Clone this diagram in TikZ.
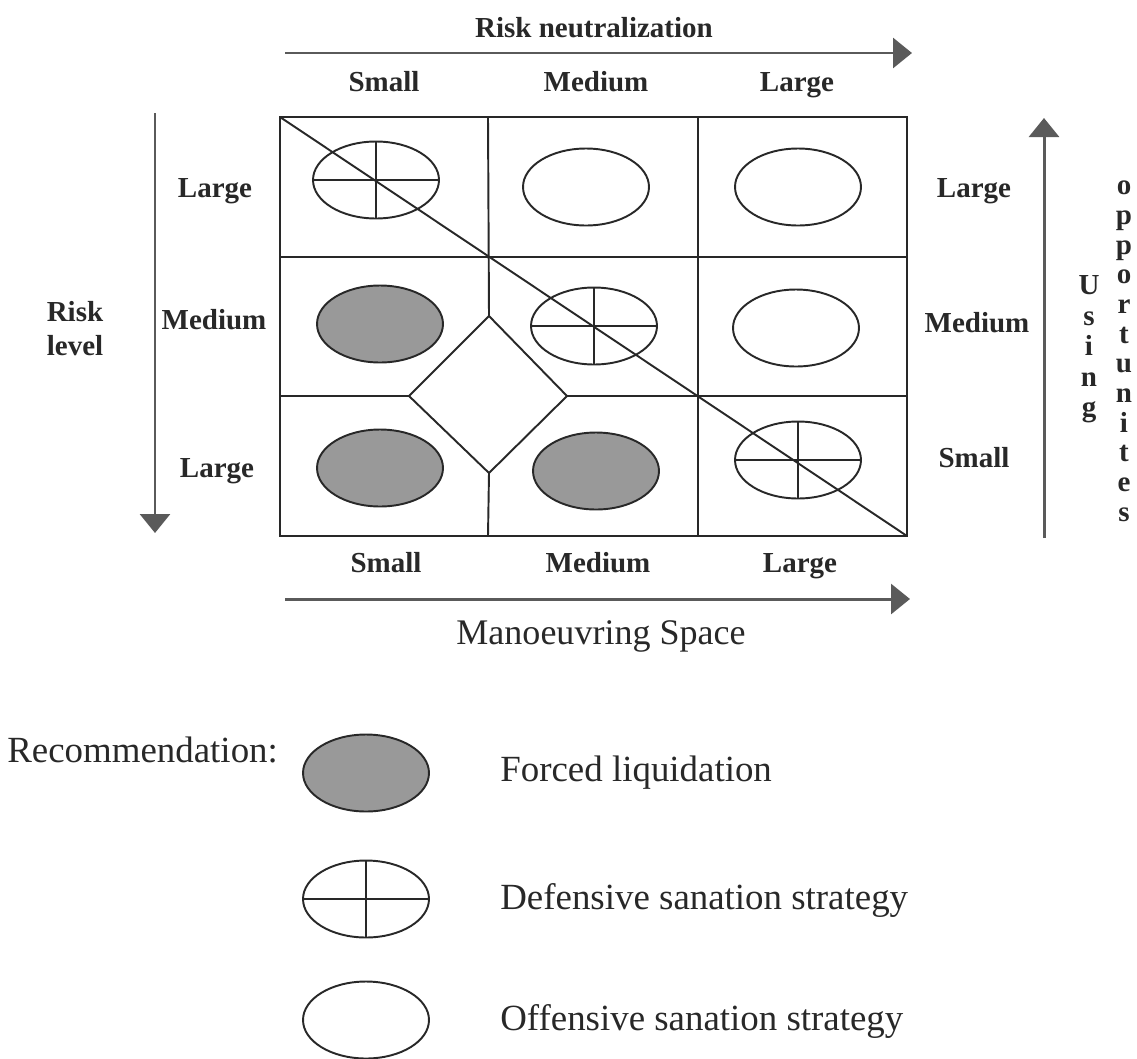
\documentclass[tikz,border=0pt]{standalone}
\usepackage{fontspec}
\setmainfont{Liberation Serif}
\usepackage{tikz}
\usetikzlibrary{shapes.geometric, arrows.meta}
\definecolor{cellfill}{RGB}{153,153,153}
\definecolor{axisgray}{RGB}{90,90,90}
\definecolor{inkgray}{RGB}{40,40,40}

\begin{document}
\begin{tikzpicture}[x=0.02cm, y=-0.02cm,
    lbl/.style={font=\bfseries\fontsize{16.5}{19}\selectfont, text=inkgray, inner sep=0pt, text height=11pt, text depth=0pt},
    legtext/.style={font=\fontsize{21}{24}\selectfont, text=inkgray, anchor=west, inner sep=0pt, text height=14pt, text depth=0pt},
    oval/.style={ellipse, draw=inkgray, line width=1.1pt, minimum width=2.52cm, minimum height=1.54cm, inner sep=0pt},
    forced/.style={oval, fill=cellfill},
    offensive/.style={oval},
    defensive/.style={oval, path picture={
      \draw[inkgray, line width=1.1pt] (path picture bounding box.west) -- (path picture bounding box.east)
        (path picture bounding box.north) -- (path picture bounding box.south);}},
    gridline/.style={draw=inkgray, line width=1.1pt},
    axisarrow/.style={draw=axisgray, line width=1.7pt, -{Triangle[length=0.38cm, width=0.6cm]}}]
  \useasboundingbox (0,0) rectangle (1137,1059);

  % grid corners, inner lines and the diamond
  \coordinate (tl) at (280,117);
  \coordinate (br) at (907,536);
  \coordinate (dtop) at (489,316);
  \coordinate (dright) at (567,396);
  \coordinate (dbot) at (489,473);
  \coordinate (dleft) at (409,396);
  \draw [gridline] (tl) rectangle (br);
  \draw [gridline] (280,257) -- (907,257);
  \draw [gridline] (280,396) -- (dleft);
  \draw [gridline] (dright) -- (907,396);
  \draw [gridline] (488,117) -- (dtop);
  \draw [gridline] (dbot) -- (488,536);
  \draw [gridline] (698,117) -- (698,536);
  \draw [gridline] (dtop) -- (dright) -- (dbot) -- (dleft) -- cycle;

  % cells
  \node [defensive] (c11) at (376,180) {};
  \node [offensive] (c12) at (586,187) {};
  \node [offensive] (c13) at (798,187) {};
  \node [forced] (c21) at (380,324) {};
  \node [defensive] (c22) at (594,326) {};
  \node [offensive] (c23) at (796,328) {};
  \node [forced] (c31) at (380,468) {};
  \node [forced] (c32) at (596,471) {};
  \node [defensive] (c33) at (798,460) {};
  \draw [gridline] (tl) -- (br);

  % axes
  \coordinate (top0) at (285,53);
  \coordinate (top1) at (912,53);
  \coordinate (left0) at (155,113);
  \coordinate (left1) at (155,533);
  \coordinate (right0) at (1044,538);
  \coordinate (right1) at (1044,118);
  \coordinate (bot0) at (285,599);
  \coordinate (bot1) at (910,599);
  \draw [axisarrow] (top0) -- (top1);
  \draw [axisarrow] (left0) -- (left1);
  \draw [axisarrow] (right0) -- (right1);
  \draw [axisarrow] (bot0) -- (bot1);

  \node [lbl] (rn) at (594,28) {Risk neutralization};
  \node [lbl] (ts) at (384,82) {Small};
  \node [lbl] (tm) at (596,82) {Medium};
  \node [lbl] (tl2) at (797,82) {Large};
  \node [lbl] (bs) at (386,563) {Small};
  \node [lbl] (bm) at (598,563) {Medium};
  \node [lbl] (bl) at (800,563) {Large};
  \node [lbl] (ll1) at (215,188) {Large};
  \node [lbl] (lm) at (214,320) {Medium};
  \node [lbl] (ll3) at (217,468) {Large};
  \node [lbl] (risk) at (75,312) {Risk};
  \node [lbl] (level) at (75,346) {level};
  \node [lbl] (rl1) at (974,188) {Large};
  \node [lbl] (rm) at (977,323) {Medium};
  \node [lbl] (rs) at (974,458) {Small};
  \foreach \ch [count=\i] in {U,s,i,n,g}
    \node [lbl] (using\i) at (1089,{285+30.5*(\i-1)}) {\ch};
  \foreach \ch [count=\i] in {o,p,p,o,r,t,u,n,i,t,e,s}
    \node [lbl] (opp\i) at (1124,{185+29.7*(\i-1)}) {\ch};
  \node [font=\fontsize{20.5}{24}\selectfont, text=inkgray, inner sep=0pt] (space) at (601,636) {Manoeuvring Space};

  % legend
  \node [legtext] (rec) at (7,750) {Recommendation:};
  \node [forced] (legforced) at (366,773) {};
  \node [legtext] (forcedtext) at (500,769) {Forced liquidation};
  \node [defensive] (legdef) at (366,899) {};
  \node [legtext] (deftext) at (500,897) {Defensive sanation strategy};
  \node [offensive] (legoff) at (366,1020) {};
  \node [legtext] (offtext) at (500,1018) {Offensive sanation strategy};
\end{tikzpicture}
\end{document}
